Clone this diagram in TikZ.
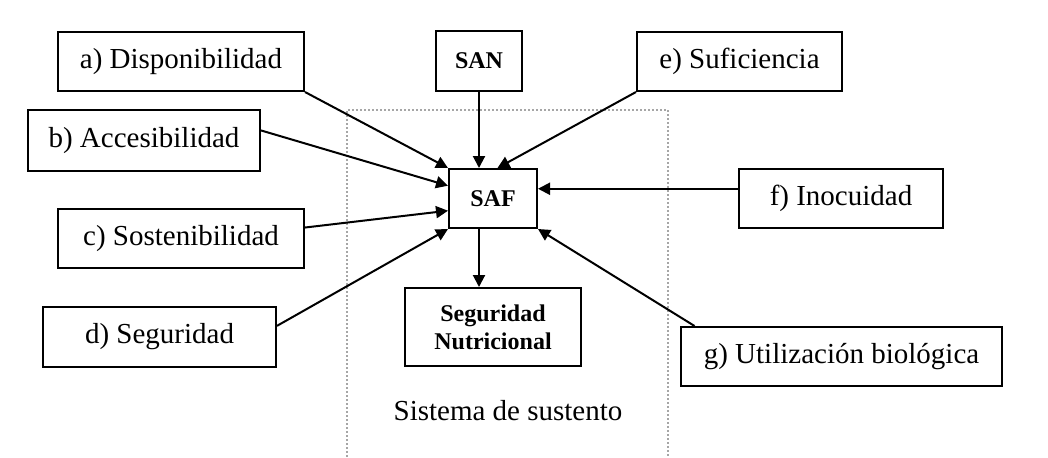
\documentclass[tikz,border=0pt]{standalone}
\usepackage{fontspec}
\setmainfont{Liberation Serif}
\usetikzlibrary{arrows.meta,calc}
\begin{document}
\begin{tikzpicture}[x=0.5pt,y=-0.5pt,
  box/.style={draw,line width=1pt,inner sep=0pt,font=\fontsize{14.5}{17}\selectfont},
  bbox/.style={draw,line width=1pt,inner sep=0pt,align=center,font=\fontsize{12}{14}\selectfont\bfseries},
  arr/.style={line width=1pt,-{Triangle[length=6pt,width=6pt]}},
  lab/.style={font=\fontsize{14.5}{17}\selectfont}]
\useasboundingbox (0,0) rectangle (1048,457);
\draw[gray!70,line width=0.7pt,dash pattern=on 1pt off 1pt] (347,457) -- (347,110) -- (668,110) -- (668,457);
\node[box,minimum width=123pt,minimum height=29.5pt] (a) at (181,61.5) {a) Disponibilidad};
\node[box,minimum width=116pt,minimum height=30.5pt] (b) at (144,140.5) {b) Accesibilidad};
\node[box,minimum width=123pt,minimum height=29.5pt] (c) at (181,238.5) {c) Sostenibilidad};
\node[box,minimum width=116.5pt,minimum height=30pt] (d) at (159.5,337) {d) Seguridad};
\node[bbox,minimum width=43pt,minimum height=30pt] (san) at (479,61) {SAN};
\node[bbox,minimum width=44pt,minimum height=29.5pt] (saf) at (493,198.5) {SAF};
\node[box,minimum width=102.5pt,minimum height=29.5pt] (e) at (739.5,61.5) {e) Suficiencia};
\node[box,minimum width=102pt,minimum height=29.5pt] (f) at (841,198.5) {f) Inocuidad};
\node[bbox,minimum width=88pt,minimum height=39pt] (sn) at (493,327) {Seguridad\\Nutricional};
\node[box,minimum width=160.5pt,minimum height=29.5pt] (g) at (841.5,356.5) {g) Utilización biológica};
\node[lab] (sis) at (508,411) {Sistema de sustento};
% connectors
\draw[arr] (a.south east) -- (saf.north west);
\draw[arr] (san.south) -- (san.south |- saf.north);
\draw[arr] (e.south west) -- ($(saf.north west)!0.55!(saf.north east)$);
\draw[arr] ($(b.north east)!0.34!(b.south east)$) -- ($(saf.north west)!0.29!(saf.south west)$);
\draw[arr] ($(c.north east)!0.32!(c.south east)$) -- ($(saf.north west)!0.7!(saf.south west)$);
\draw[arr] ($(d.north east)!0.32!(d.south east)$) -- (saf.south west);
\coordinate (fw) at ($(f.north west)!0.34!(f.south west)$);
\draw[arr] (fw) -- (fw -| saf.east);
\draw[arr] ($(g.north west)!0.045!(g.north east)$) -- (saf.south east);
\draw[arr] (san.south |- saf.south) -- (san.south |- sn.north);
\end{tikzpicture}
\end{document}
